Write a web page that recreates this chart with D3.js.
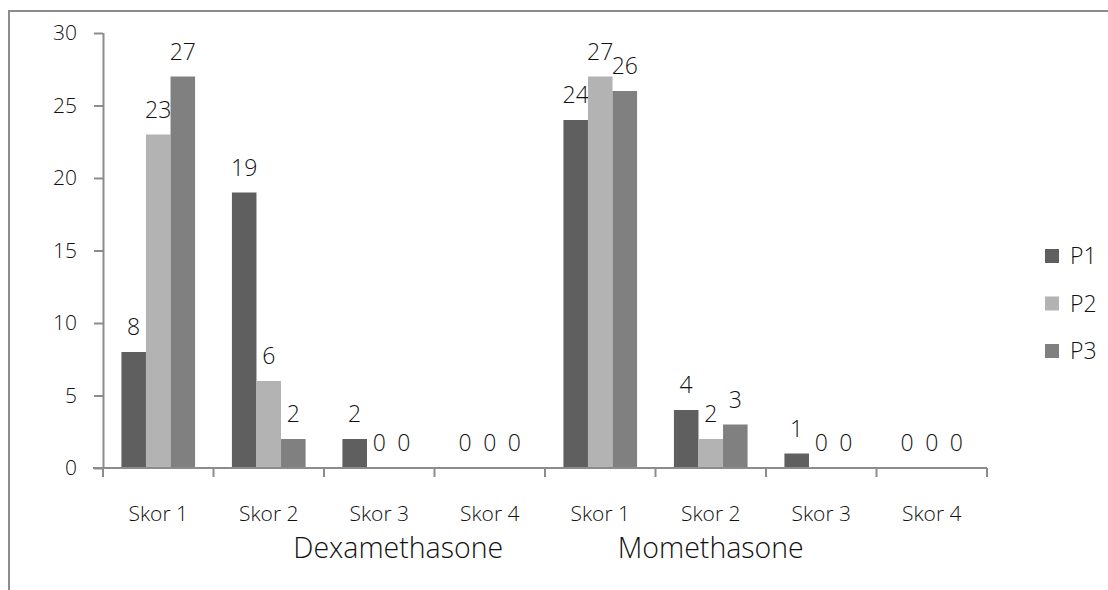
<!DOCTYPE html>
<html><head><meta charset="utf-8">
<script src="https://cdn.jsdelivr.net/npm/d3@7"></script>
<style>
body{margin:0;background:#fff;}
text{font-family:"Open Sans",sans-serif;font-weight:300;fill:#111;}
</style></head>
<body><svg id="c" width="1108" height="590"></svg>
<script>
const groups = ["Dexamethasone","Momethasone"];
const scores = ["Skor 1","Skor 2","Skor 3","Skor 4"];
const seriesNames = ["P1","P2","P3"];
const P1 = [8,19,2,0,24,4,1,0];
const P2 = [23,6,0,0,27,2,0,0];
const P3 = [27,2,0,0,26,3,0,0];
const yTicks = [0,5,10,15,20,25,30];
const colors = ["#5f5f5f","#b3b3b3","#808080"];

const series = [P1,P2,P3];
const cats = [];
groups.forEach((g,gi)=>scores.forEach((s,si)=>cats.push({g,s,i:gi*scores.length+si})));

const svg = d3.select("#c");
svg.append("rect").attr("x",9).attr("y",11).attr("width",1300).attr("height",800)
  .attr("fill","none").attr("stroke","#8c8c8c").attr("stroke-width",2);

const x0 = 103, x1 = 987, yTop = 33, yBot = 468;
const x = d3.scaleBand().domain(cats.map(d=>d.i)).range([x0,x1]).padding(0);
const y = d3.scaleLinear().domain([0,30]).range([yBot,yTop]);
const bw = x.bandwidth();
const xs = d3.scaleBand().domain(seriesNames).range([0,bw]).paddingInner(0).paddingOuter(0.75);

// y axis
const ya = svg.append("g").attr("transform",`translate(${x0},0)`)
  .call(d3.axisLeft(y).tickValues(yTicks).tickSize(9).tickPadding(17).tickFormat(d3.format("d")));
ya.selectAll("text").style("font-size","21px");
ya.selectAll("line,path").attr("stroke","#8c8c8c").attr("stroke-width",2);
ya.select("path").attr("d",`M0.5,${yTop}V${yBot}`);

// bars
series.forEach((vals,si)=>{
  svg.append("g").selectAll("rect").data(cats).join("rect")
    .attr("x",d=>x(d.i)+xs(seriesNames[si]))
    .attr("width",xs.bandwidth())
    .attr("y",d=>y(vals[d.i]))
    .attr("height",d=>yBot-y(vals[d.i]))
    .attr("fill",colors[si]);
  svg.append("g").selectAll("text").data(cats).join("text")
    .attr("x",d=>x(d.i)+xs(seriesNames[si])+xs.bandwidth()/2)
    .attr("y",d=>y(vals[d.i])-17)
    .attr("text-anchor","middle").style("font-size","23px")
    .text(d=>vals[d.i]);
});

// x axis
const xa = svg.append("g").attr("transform",`translate(0,${yBot})`);
xa.append("line").attr("x1",x0-10).attr("x2",x1).attr("stroke","#8c8c8c").attr("stroke-width",2);
const tickPos = cats.map(d=>x(d.i)).concat([x1]);
xa.selectAll(".tk").data(tickPos).join("line").attr("class","tk")
  .attr("x1",d=>d).attr("x2",d=>d).attr("y1",0).attr("y2",9)
  .attr("stroke","#8c8c8c").attr("stroke-width",2);
xa.selectAll(".cl").data(cats).join("text").attr("class","cl")
  .attr("x",d=>x(d.i)+bw/2).attr("y",53).attr("text-anchor","middle")
  .style("font-size","21px").text(d=>d.s);

// group labels
const gPos = [x(2)+bw/2+19, x(5)+bw/2];
svg.selectAll(".gl").data(groups).join("text").attr("class","gl")
  .attr("x",(d,i)=>gPos[i]).attr("y",558).attr("text-anchor","middle")
  .style("font-size","28.5px").text(d=>d);

// legend
const lg = svg.append("g").attr("transform","translate(1045,0)");
seriesNames.forEach((n,i)=>{
  const yy = 256 + i*47.5;
  lg.append("rect").attr("x",0).attr("y",yy-7).attr("width",14).attr("height",14).attr("fill",colors[i]);
  lg.append("text").attr("x",25).attr("y",yy+8).style("font-size","23px").text(n);
});
</script></body></html>
